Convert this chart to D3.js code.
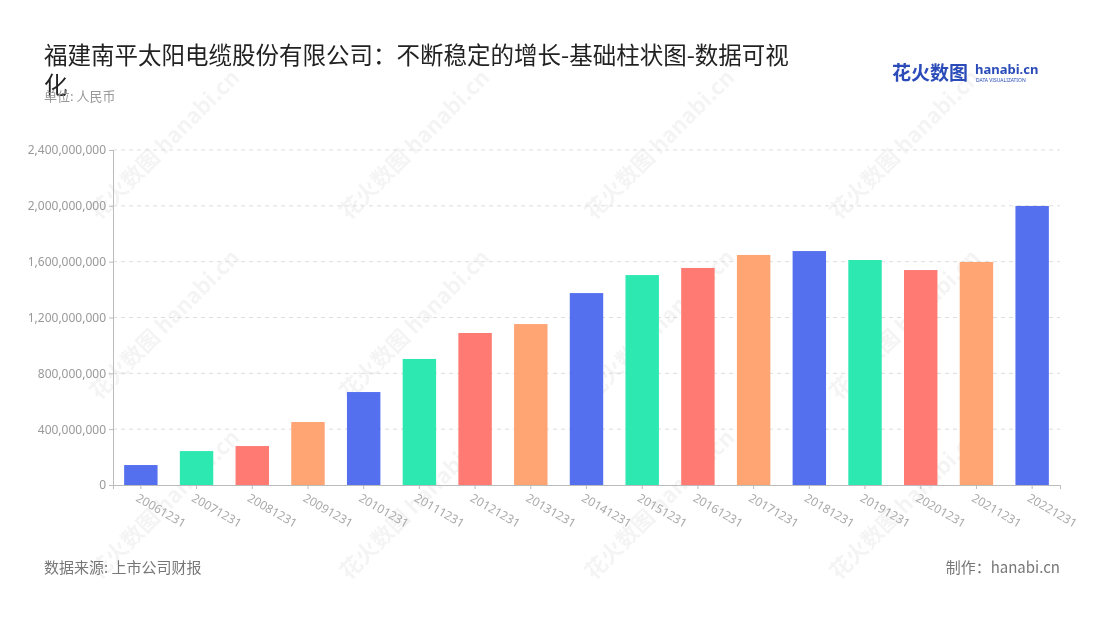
<!DOCTYPE html>
<html><head><meta charset="utf-8">
<script src="https://cdn.jsdelivr.net/npm/d3@7"></script>
<style>body{margin:0;background:#fff;font-family:"Noto Sans CJK SC","Noto Sans",sans-serif}</style>
</head><body><svg id="c" width="1100" height="620"></svg>
<script>
const categories=["20061231","20071231","20081231","20091231","20101231","20111231","20121231","20131231","20141231","20151231","20161231","20171231","20181231","20191231","20201231","20211231","20221231"];
const values=[143e6,243e6,279e6,451e6,666e6,903e6,1089e6,1153e6,1375e6,1504e6,1555e6,1648e6,1676e6,1612e6,1540e6,1598e6,1999e6];
const yTicks=[0,400e6,800e6,1200e6,1600e6,2000e6,2400e6];
const palette=["#5470ef","#2de8b0","#ff7a72","#ffa473"];
const svg=d3.select("#c");
const m={l:113,r:1060,t:150,b:485};
const x=d3.scaleBand().domain(categories).range([m.l,m.r]).paddingInner(0.4).paddingOuter(0.2);
const y=d3.scaleLinear().domain([0,2400e6]).range([m.b,m.t]);
const wm=svg.append("g").attr("fill","#000").attr("opacity",0.045).attr("font-weight","bold");
[[170,150],[420,150],[665,150],[910,150],[170,330],[420,330],[665,330],[910,330],[170,510],[420,510],[665,510],[910,510]].forEach(p=>{
 wm.append("text").attr("transform",`translate(${p[0]},${p[1]}) rotate(-45)`).attr("text-anchor","middle").attr("font-size",22).text("花火数图 hanabi.cn");
});
svg.append("g").selectAll("line").data(yTicks.slice(1)).join("line")
 .attr("x1",m.l).attr("x2",m.r).attr("y1",d=>y(d)).attr("y2",d=>y(d))
 .attr("stroke","#ddd").attr("stroke-dasharray","4,4");
const ya=svg.append("g").attr("transform",`translate(${m.l},0)`).call(d3.axisLeft(y).tickValues(yTicks).tickFormat(d3.format(",")).tickSize(4));
ya.select(".domain").attr("stroke","#bbb");
ya.selectAll("line").attr("stroke","#bbb");
ya.selectAll("text").attr("fill","#999").attr("font-size",12).attr("font-family","Noto Sans");
svg.append("g").selectAll("rect").data(values).join("rect")
 .attr("x",(d,i)=>x(categories[i])).attr("width",x.bandwidth())
 .attr("y",d=>y(d)).attr("height",d=>y(0)-y(d))
 .attr("fill",(d,i)=>palette[i%4]);
const xa=svg.append("g").attr("transform",`translate(0,${m.b})`).call(d3.axisBottom(x).tickSize(4));
xa.select(".domain").attr("stroke","#bbb");
xa.selectAll("line").attr("stroke","#bbb");
xa.selectAll("text").attr("fill","#aaa").attr("font-size",12).attr("font-family","Noto Sans")
 .attr("text-anchor","start").attr("transform","translate(2,2) rotate(30)");
svg.append("text").attr("x",44).attr("y",64).attr("font-size",23.5).attr("fill","#222").text("福建南平太阳电缆股份有限公司：不断稳定的增长-基础柱状图-数据可视");
svg.append("text").attr("x",44).attr("y",94).attr("font-size",23.5).attr("fill","#222").text("化");
svg.append("text").attr("x",44).attr("y",101).attr("font-size",13).attr("fill","#999").text("单位: 人民币");
svg.append("text").attr("x",44).attr("y",573).attr("font-size",15).attr("fill","#777").text("数据来源: 上市公司财报");
svg.append("text").attr("x",1060).attr("y",573).attr("text-anchor","end").attr("font-size",15).attr("fill","#777").text("制作：hanabi.cn");
svg.append("text").attr("x",892).attr("y",80).attr("font-size",19).attr("font-weight","bold").attr("fill","#2a4bb8").text("花火数图");
svg.append("text").attr("x",975).attr("y",74).attr("font-size",13).attr("font-weight","bold").attr("fill","#2a4bb8").attr("font-family","Noto Sans").text("hanabi.cn");
svg.append("text").attr("x",976).attr("y",82).attr("font-size",5).attr("fill","#2a4bb8").attr("font-family","Noto Sans").text("DATA VISUALIZATION");
</script></body></html>
